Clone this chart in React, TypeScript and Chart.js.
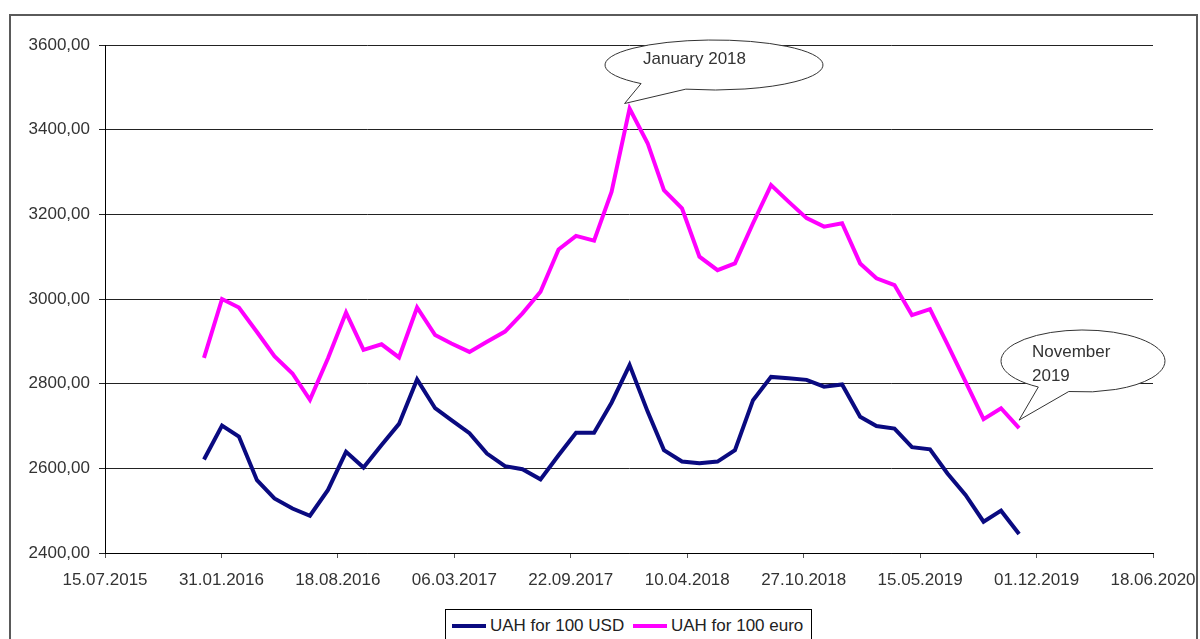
import React, { useEffect, useRef } from "react";
import { Chart, registerables } from "chart.js";

Chart.register(...registerables);

// ---- data ----
const months = [
  "2016-01", "2016-02", "2016-03", "2016-04", "2016-05", "2016-06", "2016-07", "2016-08", "2016-09", "2016-10", "2016-11", "2016-12",
  "2017-01", "2017-02", "2017-03", "2017-04", "2017-05", "2017-06", "2017-07", "2017-08", "2017-09", "2017-10", "2017-11", "2017-12",
  "2018-01", "2018-02", "2018-03", "2018-04", "2018-05", "2018-06", "2018-07", "2018-08", "2018-09", "2018-10", "2018-11", "2018-12",
  "2019-01", "2019-02", "2019-03", "2019-04", "2019-05", "2019-06", "2019-07", "2019-08", "2019-09", "2019-10", "2019-11",
];

const usdValues = [
  2621, 2701, 2675, 2572, 2529, 2505, 2488, 2549, 2639, 2602, 2655, 2705,
  2810, 2742, 2714, 2683, 2635, 2605, 2598, 2574, 2631, 2684, 2684, 2755,
  2844, 2734, 2643, 2616, 2612, 2616, 2643, 2761, 2816, 2813, 2809, 2793,
  2798, 2722, 2700, 2694, 2650, 2645, 2588, 2537, 2474, 2500, 2445,
];

const euroValues = [
  2861, 3000, 2980, 2922, 2865, 2824, 2762, 2860, 2968, 2880, 2893, 2862,
  2980, 2915, 2895, 2875, 2899, 2923, 2966, 3017, 3117, 3149, 3138, 3253,
  3450, 3368, 3257, 3214, 3100, 3068, 3084, 3179, 3269, 3230, 3191, 3171,
  3179, 3084, 3049, 3033, 2962, 2976, 2893, 2805, 2716, 2742, 2695,
];

const xTickLabels = [
  "15.07.2015", "31.01.2016", "18.08.2016", "06.03.2017", "22.09.2017",
  "10.04.2018", "27.10.2018", "15.05.2019", "01.12.2019", "18.06.2020",
];

const yMin = 2400;
const yMax = 3600;
const yStep = 200;

const seriesNames = ["UAH for 100 USD", "UAH for 100 euro"];
const seriesColors = ["#0a0a80", "#ff00ff"];

const calloutNotes = [
  { month: "2018-01", lines: ["January 2018"] },
  { month: "2019-11", lines: ["November", "2019"] },
];

// ---- layout of callouts (pixels) ----
const calloutLayout = [
  { cx: 714, cy: 65, rx: 109, ry: 25, gapFrom: 105, gapTo: 132, tipDx: -5, tipDy: -5, textX: 643, textY: [59] },
  { cx: 1083, cy: 361, rx: 82, ry: 31, gapFrom: 100, gapTo: 123, tipDx: 0, tipDy: -8, textX: 1032, textY: [352, 376] },
];

const DAY = 86400000;
const monthToDay = (m: string) => {
  const [y, mo] = m.split("-").map(Number);
  return Date.UTC(y, mo - 1, 1) / DAY;
};
const labelToDay = (s: string) => {
  const [d, m, y] = s.split(".").map(Number);
  return Date.UTC(y, m - 1, d) / DAY;
};
const pad = (n: number) => (n < 10 ? "0" + n : "" + n);
const dayToLabel = (v: number) => {
  const d = new Date(Math.round(v) * DAY);
  return pad(d.getUTCDate()) + "." + pad(d.getUTCMonth() + 1) + "." + d.getUTCFullYear();
};

const FONT = '"Liberation Sans", Arial, sans-serif';

const calloutPlugin = {
  id: "callouts",
  afterDatasetsDraw(chart: any) {
    const ctx = chart.ctx;
    const xs = chart.scales.x;
    const ys = chart.scales.y;
    calloutNotes.forEach((note, i) => {
      const L = calloutLayout[i];
      const idx = months.indexOf(note.month);
      const px = xs.getPixelForValue(monthToDay(note.month));
      const py = ys.getPixelForValue(euroValues[idx]);
      const tipX = px + L.tipDx;
      const tipY = py + L.tipDy;
      const a1 = (L.gapTo * Math.PI) / 180;
      const a2 = (L.gapFrom * Math.PI) / 180 + Math.PI * 2;
      ctx.save();
      ctx.beginPath();
      ctx.ellipse(L.cx, L.cy, L.rx, L.ry, 0, a1, a2, false);
      ctx.lineTo(tipX, tipY);
      ctx.closePath();
      ctx.fillStyle = "#ffffff";
      ctx.fill();
      ctx.strokeStyle = "#333333";
      ctx.lineWidth = 1;
      ctx.stroke();
      ctx.fillStyle = "#333333";
      ctx.font = "17px " + FONT;
      ctx.textAlign = "left";
      ctx.textBaseline = "middle";
      note.lines.forEach((t, k) => ctx.fillText(t, L.textX, L.textY[k]));
      ctx.restore();
    });
  },
};

export default function App() {
  const ref = useRef<HTMLCanvasElement | null>(null);

  useEffect(() => {
    if (!ref.current) return;
    const xs = months.map(monthToDay);
    const chart = new Chart(ref.current, {
      type: "line",
      data: {
        datasets: [
          {
            label: seriesNames[0],
            data: usdValues.map((v, i) => ({ x: xs[i], y: v })),
            borderColor: seriesColors[0],
            backgroundColor: seriesColors[0],
            borderWidth: 4,
            pointRadius: 0,
            tension: 0,
          },
          {
            label: seriesNames[1],
            data: euroValues.map((v, i) => ({ x: xs[i], y: v })),
            borderColor: seriesColors[1],
            backgroundColor: seriesColors[1],
            borderWidth: 4,
            pointRadius: 0,
            tension: 0,
          },
        ],
      },
      options: {
        responsive: false,
        animation: false,
        events: [],
        layout: { padding: { left: 0, right: 47, top: 45, bottom: 0 } },
        plugins: {
          legend: { display: false },
          tooltip: { enabled: false },
        },
        scales: {
          x: {
            type: "linear",
            min: labelToDay(xTickLabels[0]),
            max: labelToDay(xTickLabels[xTickLabels.length - 1]),
            afterBuildTicks: (scale: any) => {
              scale.ticks = xTickLabels.map((s) => ({ value: labelToDay(s) }));
            },
            afterFit: (scale: any) => {
              scale.height = 86;
              scale.paddingLeft = 0;
              scale.paddingRight = 0;
            },
            ticks: {
              autoSkip: false,
              maxRotation: 0,
              minRotation: 0,
              padding: 12,
              color: "#333333",
              font: { family: FONT, size: 17 },
              callback: (v: any) => dayToLabel(Number(v)),
            },
            grid: {
              drawOnChartArea: false,
              drawTicks: true,
              tickLength: 5,
              color: "#555555",
            },
            border: { display: true, color: "#000000", width: 1 },
          },
          y: {
            min: yMin,
            max: yMax,
            afterFit: (scale: any) => {
              scale.width = 105;
            },
            ticks: {
              stepSize: yStep,
              padding: 9,
              color: "#333333",
              font: { family: FONT, size: 17 },
              callback: (v: any) => Number(v).toFixed(2).replace(".", ","),
            },
            grid: {
              color: "#222222",
              lineWidth: 1,
              drawTicks: true,
              tickLength: 6,
            },
            border: { display: true, color: "#000000", width: 1 },
          },
        },
      },
      plugins: [calloutPlugin],
    } as any);
    return () => chart.destroy();
  }, []);

  return (
    <div
      style={{
        position: "absolute",
        left: 0,
        top: 0,
        width: 1200,
        height: 639,
        overflow: "hidden",
        background: "#ffffff",
      }}
    >
      <div
        style={{
          position: "absolute",
          left: 9,
          top: 14,
          width: 1189,
          height: 700,
          border: "2px solid #5a5a5a",
          boxSizing: "border-box",
        }}
      />
      <canvas
        ref={ref}
        width={1200}
        height={639}
        style={{ position: "absolute", left: 0, top: 0, width: 1200, height: 639 }}
      />
      <div
        style={{
          position: "absolute",
          left: 445,
          top: 609,
          width: 367,
          height: 60,
          border: "1px solid #000000",
          boxSizing: "border-box",
          background: "#ffffff",
          fontFamily: FONT,
          fontSize: 17,
          color: "#222222",
        }}
      >
        {seriesNames.map((name, i) => (
          <div
            key={name}
            style={{
              position: "absolute",
              left: i === 0 ? 6 : 187,
              top: 6,
              height: 20,
              display: "flex",
              alignItems: "center",
              whiteSpace: "nowrap",
            }}
          >
            <span
              style={{
                display: "inline-block",
                width: 34,
                height: 4,
                background: seriesColors[i],
                marginRight: 4,
              }}
            />
            <span>{name}</span>
          </div>
        ))}
      </div>
    </div>
  );
}
